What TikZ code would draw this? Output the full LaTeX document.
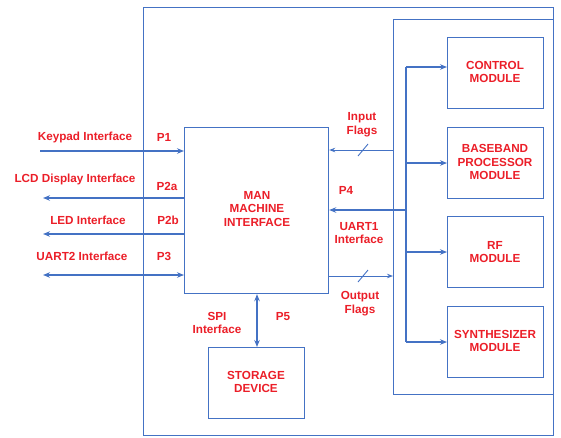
\documentclass[tikz,border=0pt]{standalone}
\usepackage{fontspec}
\setmainfont{Liberation Sans}
\usetikzlibrary{arrows.meta}
\definecolor{lineblue}{RGB}{68,114,196}
\definecolor{txtred}{RGB}{235,30,40}
\begin{document}
\begin{tikzpicture}[x=1pt,y=-1pt,
  box/.style={draw=lineblue,line width=1.2pt,fill=none},
  lbl/.style={text=txtred,font=\bfseries\fontsize{11.7}{13.8}\selectfont,align=center,inner sep=0pt},
  conn/.style={draw=lineblue,line width=1.6pt,-{Stealth[length=7pt,width=5.5pt]}},
  dconn/.style={draw=lineblue,line width=1.6pt,{Stealth[length=7pt,width=5.5pt]}-{Stealth[length=7pt,width=5.5pt]}},
  thin/.style={draw=lineblue,line width=0.9pt,-{Stealth[length=6pt,width=4.5pt]}}]
\useasboundingbox (0,0) rectangle (561,437);
% outer and inner frames
\node[box,minimum width=410pt,minimum height=428pt,anchor=north west,inner sep=0pt] (outer) at (143,7) {};
\node[box,minimum width=160pt,minimum height=375pt,anchor=north west,inner sep=0pt] (inner) at (393,19) {};
% MMI and storage
\node[box,minimum width=144pt,minimum height=166pt,anchor=north west,inner sep=0pt] (mmi) at (184,127) {};
\node[lbl] at (257,209) {MAN\\MACHINE\\INTERFACE};
\node[box,minimum width=96pt,minimum height=71pt,anchor=north west,inner sep=0pt] (stor) at (208,347) {};
\node[lbl] at (256,382) {STORAGE\\DEVICE};
% modules
\node[box,minimum width=96pt,minimum height=71pt,anchor=north west,inner sep=0pt] (ctrl) at (447,37) {};
\node[lbl] at (495,72) {CONTROL\\MODULE};
\node[box,minimum width=96pt,minimum height=71pt,anchor=north west,inner sep=0pt] (base) at (447,127) {};
\node[lbl] at (495,162) {BASEBAND\\PROCESSOR\\MODULE};
\node[box,minimum width=96pt,minimum height=71pt,anchor=north west,inner sep=0pt] (rf) at (447,216) {};
\node[lbl] at (495,252) {RF\\MODULE};
\node[box,minimum width=96pt,minimum height=71pt,anchor=north west,inner sep=0pt] (synth) at (447,306) {};
\node[lbl] at (495,341) {SYNTHESIZER\\MODULE};
% bus
\coordinate (bt) at (406,67);
\coordinate (bb) at (406,342);
\draw[draw=lineblue,line width=1.6pt] (bt) -- (bb);
\draw[conn] (bt) -- (ctrl.west |- bt);
\draw[conn] (406,163) -- (base.west |- 0,163);
\draw[conn] (406,252) -- (rf.west |- 0,252);
\draw[conn] (bb) -- (synth.west |- bb);
% left interfaces
\coordinate (kp) at (40,151);
\coordinate (lcd) at (43,198);
\coordinate (led) at (43,234);
\coordinate (u2) at (43,275);
\draw[conn] (kp) -- (mmi.west |- kp);
\draw[conn] (mmi.west |- lcd) -- (lcd);
\draw[conn] (mmi.west |- led) -- (led);
\draw[dconn] (u2) -- (mmi.west |- u2);
\node[lbl] at (85,137) {Keypad Interface};
\node[lbl] at (164,137) {P1};
\node[lbl] at (75,179) {LCD Display Interface};
\node[lbl] at (167,186) {P2a};
\node[lbl] at (88,220) {LED Interface};
\node[lbl] at (168,220) {P2b};
\node[lbl] at (82,256) {UART2 Interface};
\node[lbl] at (164,256) {P3};
% right interfaces
\coordinate (inf) at (393,150);
\coordinate (p4) at (406,210);
\coordinate (outf) at (393,276);
\draw[thin] (inf) -- (mmi.east |- inf);
\draw[draw=lineblue,line width=0.9pt] (358,156) -- (368,144);
\draw[conn] (p4) -- (mmi.east |- p4);
\draw[thin] (mmi.east |- outf) -- (outf);
\draw[draw=lineblue,line width=0.9pt] (358,282) -- (368,270);
\node[lbl] at (362,125) {Input\\Flags};
\node[lbl] at (346,190) {P4};
\node[lbl] at (359,233) {UART1\\Interface};
\node[lbl] at (360,304) {Output\\Flags};
% SPI
\draw[dconn] (mmi.south -| 257,0) -- (stor.north -| 257,0);
\node[lbl] at (217,323) {SPI\\Interface};
\node[lbl] at (283,317) {P5};
\end{tikzpicture}
\end{document}
